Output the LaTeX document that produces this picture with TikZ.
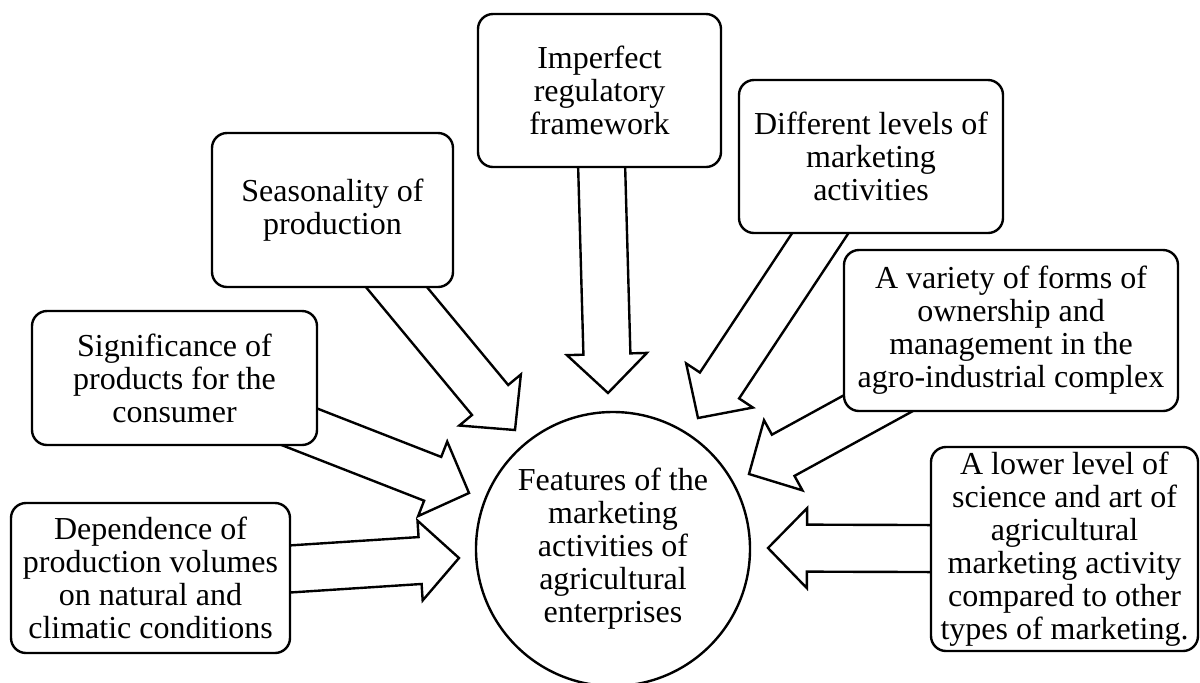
\documentclass[tikz,border=0pt]{standalone}
\usepackage{fontspec}
\setmainfont{Liberation Serif}
\usetikzlibrary{shapes,calc,backgrounds}

\newcommand{\bigarrow}[2]{%
  \coordinate (ah) at ($(#2)!19.5pt!(#1.center)$);
  \draw[blockarrow] ($(#1.center)!11.75pt!90:(#2)$) -- ($(ah)!11.75pt!90:(#2)$)
    -- ($(ah)!20pt!90:(#2)$) -- (#2) -- ($(ah)!20pt!-90:(#2)$)
    -- ($(ah)!11.75pt!-90:(#2)$) -- ($(#1.center)!11.75pt!-90:(#2)$) -- cycle;}

\begin{document}
\begin{tikzpicture}[x=0.5pt,y=-0.5pt]
      \tikzstyle{factor}=[rectangle, rounded corners=7.5pt, draw, line width=1.2pt, fill=white, align=center, inner sep=0pt, font=\fontsize{16}{16.5}\selectfont]
      \tikzstyle{feature}=[circle, draw, line width=1.2pt, fill=white, align=center, inner sep=0pt, minimum size=137pt, font=\fontsize{16}{16.5}\selectfont]
      \tikzstyle{blockarrow}=[draw, line width=1.2pt, fill=white]
      \useasboundingbox (0,0) rectangle (1200,682);
      \node[feature] (feat) at (613,549) {Features of the\\marketing\\activities of\\agricultural\\enterprises};
      \node[factor, minimum width=121.5pt, minimum height=76.5pt] (imp) at (599.5,90.5) {Imperfect\\regulatory\\framework};
      \node[factor, minimum width=120.5pt, minimum height=77pt] (seas) at (332.5,210) {Seasonality of\\production};
      \node[factor, minimum width=142.5pt, minimum height=67pt] (sig) at (174.5,378) {Significance of\\products for the\\consumer};
      \node[factor, minimum width=139.5pt, minimum height=75pt] (dep) at (150.5,578) {Dependence of\\production volumes\\on natural and\\climatic conditions};
      \node[factor, minimum width=132pt, minimum height=76.5pt] (diff) at (871,156.5) {Different levels of\\marketing\\activities};
      \node[factor, minimum width=167pt, minimum height=80.5pt] (var) at (1011,330.5) {A variety of forms of\\ownership and\\management in the\\agro-industrial complex};
      \node[factor, minimum width=133.5pt, minimum height=102pt] (low) at (1064.5,549) {A lower level of\\science and art of\\agricultural\\marketing activity\\compared to other\\types of marketing.};
      \coordinate (impTip) at (608,393);
      \coordinate (seasTip) at (515,430);
      \coordinate (sigTip) at (469,493);
      \coordinate (depTip) at (459,558);
      \coordinate (diffTip) at (698,418);
      \coordinate (varTip) at (749,474);
      \coordinate (lowTip) at (768,548);
      \begin{scope}[on background layer]
        \bigarrow{imp}{impTip}
        \bigarrow{seas}{seasTip}
        \bigarrow{sig}{sigTip}
        \bigarrow{dep}{depTip}
        \bigarrow{diff}{diffTip}
        \bigarrow{var}{varTip}
        \bigarrow{low}{lowTip}
      \end{scope}
\end{tikzpicture}
\end{document}
